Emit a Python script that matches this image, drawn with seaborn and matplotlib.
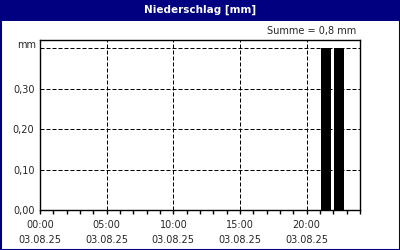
import matplotlib
matplotlib.use("Agg")
import matplotlib.pyplot as plt
import seaborn as sns
import pandas as pd
from matplotlib.patches import Rectangle

# data
hours = [21.45, 22.43]          # bar centres (hours since 00:00)
precip = [0.40, 0.40]           # mm
xtick_pos = [0, 5, 10, 15, 20]
xtick_labels = ["00:00\n03.08.25", "05:00\n03.08.25", "10:00\n03.08.25",
                "15:00\n03.08.25", "20:00\n03.08.25"]
ytick_pos = [0.0, 0.1, 0.2, 0.3]
ytick_labels = ["0,00", "0,10", "0,20", "0,30"]
title = "Niederschlag [mm]"
summe = "Summe = 0,8 mm"

sns.set_style("white")
plt.rcParams["font.family"] = ["DejaVu Sans"]

fig = plt.figure(figsize=(4, 2.5), dpi=100)
fig.patch.set_facecolor("white")
ax = fig.add_axes([40/400, 40/250, 320/400, 170/250])

df = pd.DataFrame({"h": hours, "p": precip})
sns.barplot(data=df, x="h", y="p", native_scale=True, width=0.75,
            color="black", edgecolor="black", linewidth=0, ax=ax)

ax.set_xlim(0, 24)
ax.set_ylim(0, 0.42)
ax.set_xlabel("")
ax.set_ylabel("")
ax.set_xticks(xtick_pos)
ax.set_xticklabels(xtick_labels, fontsize=7, linespacing=1.7)
ax.set_xticks(range(0, 25), minor=True)
ax.set_yticks(ytick_pos)
ax.set_yticklabels(ytick_labels, fontsize=7)
ax.tick_params(axis="x", which="both", direction="out", length=3, width=1,
               color="black", pad=4, bottom=True)
ax.tick_params(axis="y", length=0, pad=4)

for x in xtick_pos[1:]:
    ax.axvline(x, color="black", lw=0.72, ls=(0, (4, 2)), zorder=0)
for y in [0.1, 0.2, 0.3, 0.4]:
    ax.axhline(y, color="black", lw=0.72, ls=(0, (4, 2)), zorder=0)

for s in ax.spines.values():
    s.set_visible(True)
    s.set_color("black")
    s.set_linewidth(1)

ax.text(-0.012, 0.4 + 0.008, "mm", transform=ax.get_yaxis_transform(),
        ha="right", va="center", fontsize=7)

# title bar and border
fig.patches.append(Rectangle((0, 1 - 21/250), 1, 21/250, transform=fig.transFigure,
                             facecolor="#000080", edgecolor="none", zorder=0))
fig.patches.append(Rectangle((0.5/400, 0.5/250), 399/400, 249/250, transform=fig.transFigure,
                             facecolor="none", edgecolor="#000080", lw=1.5, zorder=5))
fig.text(0.5, 1 - 10/250, title, color="white", fontsize=7.5, fontweight="bold",
         ha="center", va="center")
fig.text(356/400, 1 - 31/250, summe, ha="right", va="center", fontsize=7)

fig.savefig("out.png", dpi=100)
